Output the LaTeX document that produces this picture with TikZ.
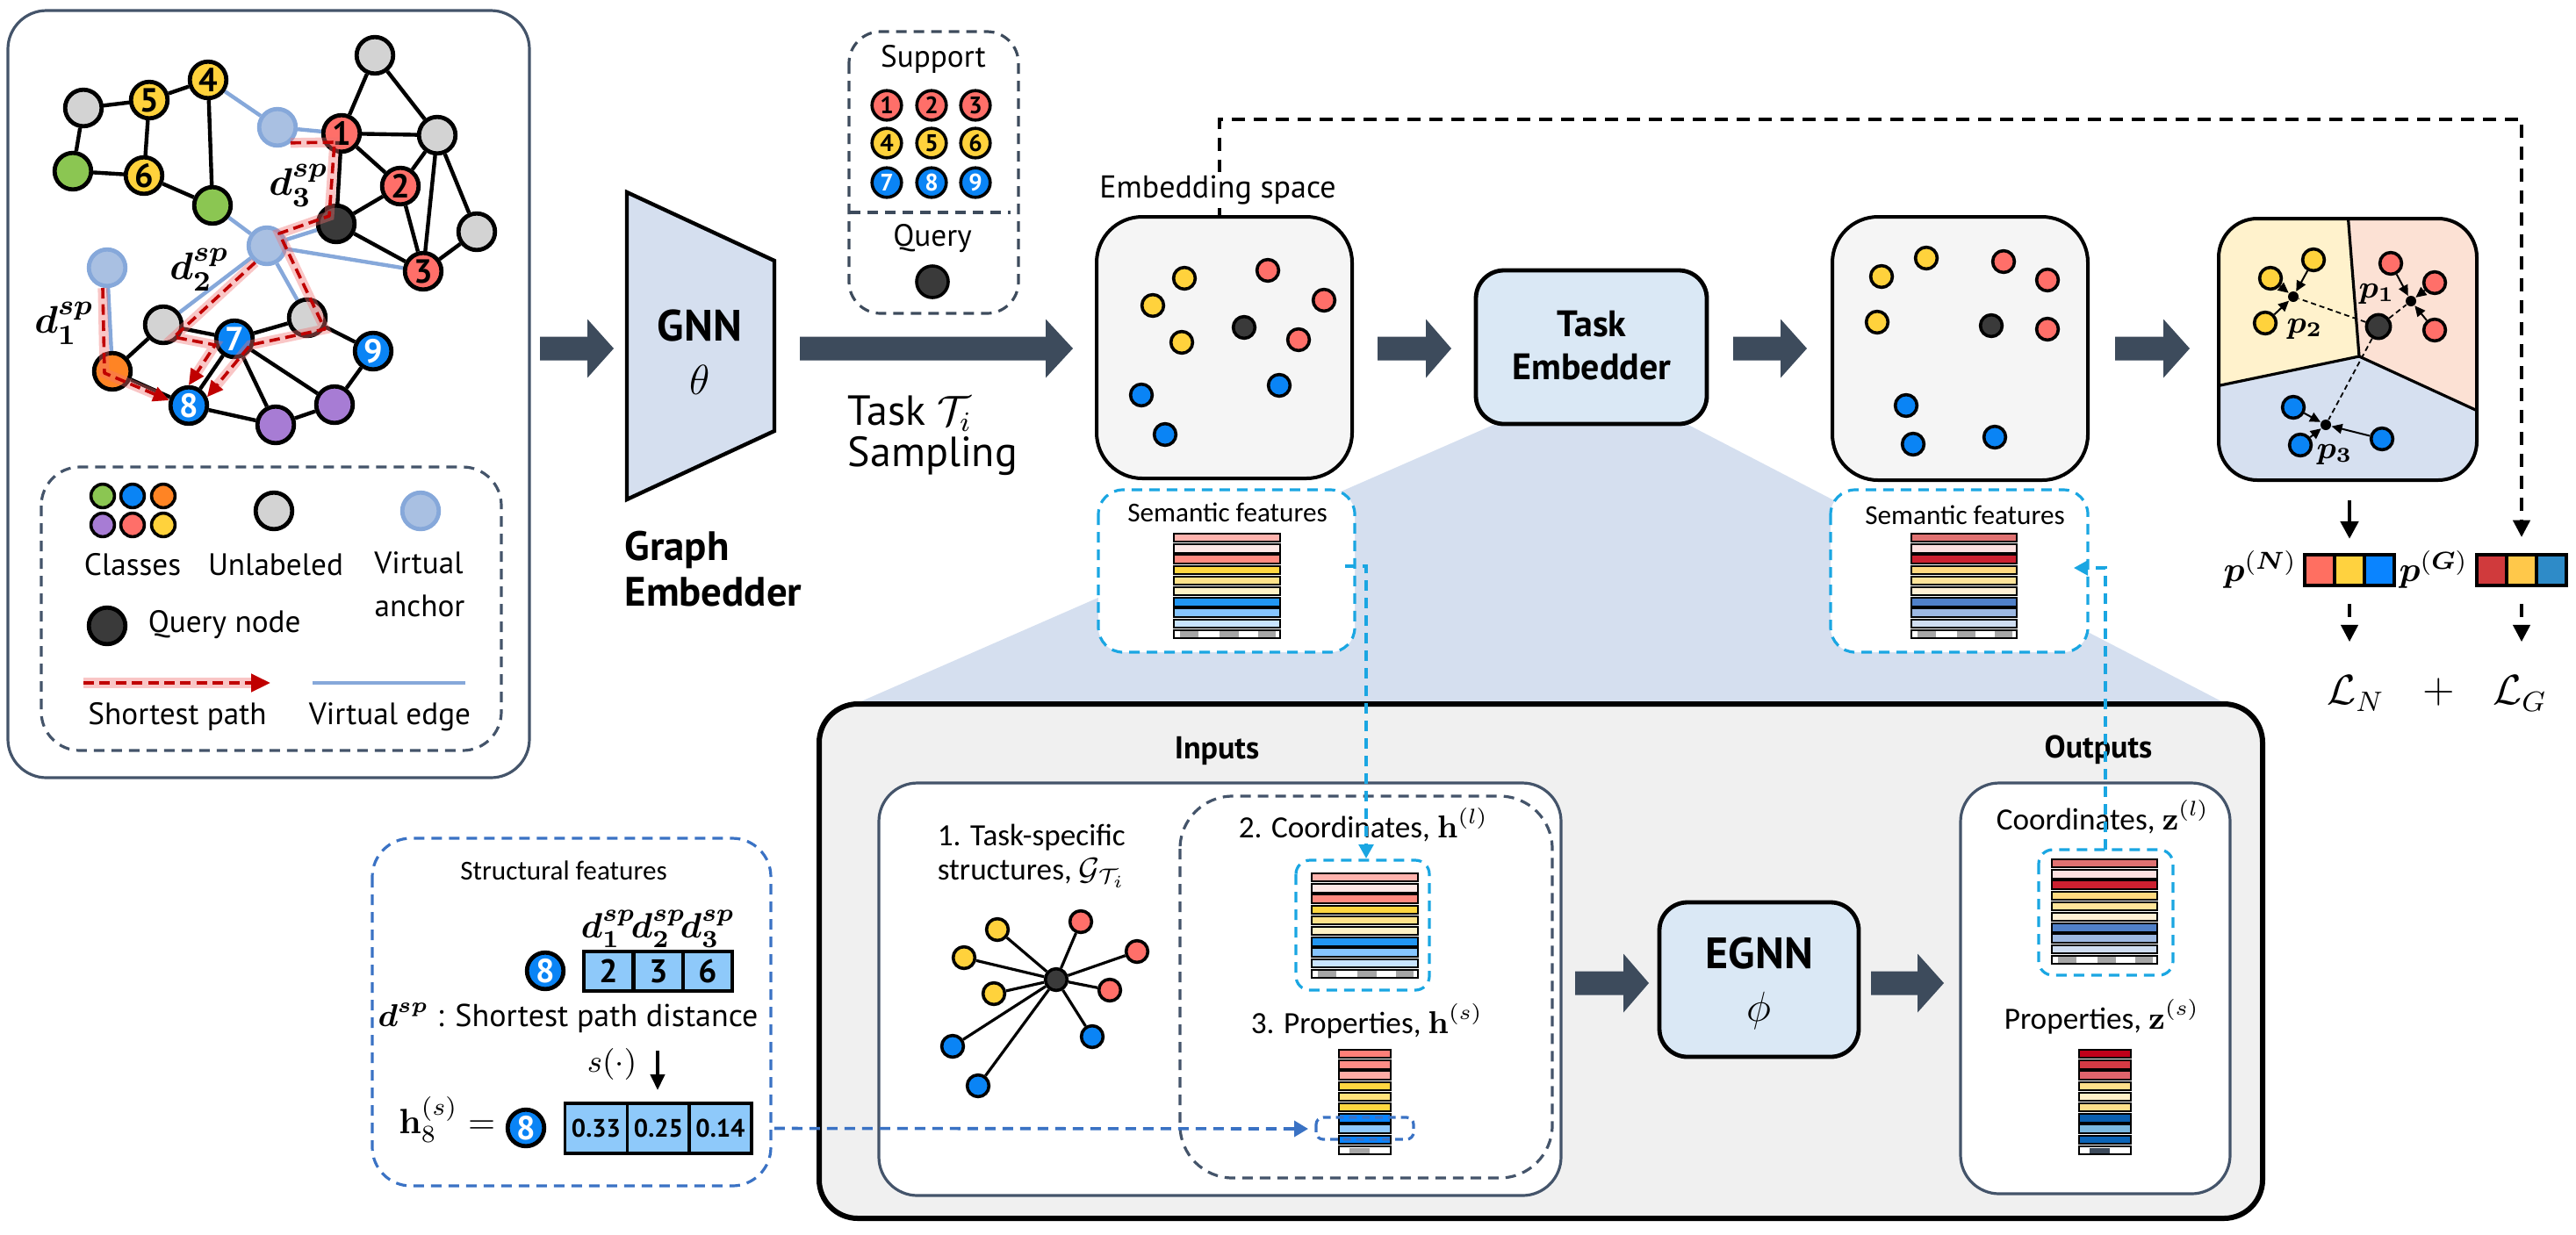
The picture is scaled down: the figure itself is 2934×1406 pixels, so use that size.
\documentclass[tikz,border=0pt]{standalone}
\usepackage{amsmath}
\usepackage[no-math]{fontspec}
\usepackage{bm}
\setmainfont{PT Sans}
\newfontfamily\calib{Carlito}
\usetikzlibrary{arrows.meta,calc}
\pgfdeclarelayer{bg}
\pgfdeclarelayer{fg}
\pgfdeclarelayer{top}
\pgfsetlayers{bg,main,fg,top}
\newcommand{\fsz}[1]{\fontsize{#1}{#1}\selectfont}
\definecolor{slate}{HTML}{3D4B5C}
\definecolor{frame}{HTML}{44546A}
\definecolor{nred}{HTML}{FF6F69}
\definecolor{nyel}{HTML}{FFD23C}
\definecolor{ngrn}{HTML}{8BC652}
\definecolor{nblu}{HTML}{0A84F5}
\definecolor{nora}{HTML}{FF8424}
\definecolor{npur}{HTML}{A77CD4}
\definecolor{ngry}{HTML}{D3D3D3}
\definecolor{ndrk}{HTML}{3A3A3A}
\definecolor{vfill}{HTML}{A9C0E2}
\definecolor{vline}{HTML}{86A8DA}
\definecolor{pathred}{HTML}{C00000}
\definecolor{glow}{HTML}{F07070}
\definecolor{gnnfill}{HTML}{D5DFEF}
\definecolor{boxfill}{HTML}{DAE8F5}
\definecolor{embfill}{HTML}{F5F5F5}
\definecolor{zoomshade}{HTML}{D5DFEF}
\definecolor{panel}{HTML}{F0F0F0}
\definecolor{cyanl}{HTML}{1AA6E2}
\definecolor{blued}{HTML}{3A72C4}
\definecolor{vyel}{HTML}{FFF2CC}
\definecolor{vpink}{HTML}{FCE1D4}
\definecolor{vblue}{HTML}{D6E0F0}
\definecolor{cellb}{HTML}{8EC9FA}
\definecolor{sA1}{HTML}{FFB3AE}\definecolor{sA2}{HTML}{FFE8E6}\definecolor{sA3}{HTML}{FF8A80}
\definecolor{sA4}{HTML}{FFD740}\definecolor{sA5}{HTML}{FFE38A}\definecolor{sA6}{HTML}{FFF2C6}
\definecolor{sA7}{HTML}{2196F3}\definecolor{sA8}{HTML}{86C5FF}\definecolor{sA9}{HTML}{C9E4FF}
\definecolor{sB1}{HTML}{E07272}\definecolor{sB2}{HTML}{FDE0E0}\definecolor{sB3}{HTML}{CC2030}
\definecolor{sB4}{HTML}{FFD980}\definecolor{sB5}{HTML}{FFE49A}\definecolor{sB6}{HTML}{FFF0D5}
\definecolor{sB7}{HTML}{5080C8}\definecolor{sB8}{HTML}{9DB8E2}\definecolor{sB9}{HTML}{D0DEF2}
\definecolor{pH1}{HTML}{FF7F78}\definecolor{pH2}{HTML}{FF8C85}\definecolor{pH3}{HTML}{FFACA5}
\definecolor{pH4}{HTML}{FFD740}\definecolor{pH5}{HTML}{FFE37A}\definecolor{pH6}{HTML}{FFD740}
\definecolor{pH7}{HTML}{0A84FF}\definecolor{pH8}{HTML}{8CC8FF}\definecolor{pH9}{HTML}{0A84FF}
\definecolor{pZ1}{HTML}{C0001A}\definecolor{pZ2}{HTML}{D63A44}\definecolor{pZ3}{HTML}{E0646C}
\definecolor{pZ4}{HTML}{FFE08A}\definecolor{pZ5}{HTML}{FFF0C8}\definecolor{pZ6}{HTML}{FFE08A}
\definecolor{pZ7}{HTML}{0A5FB0}\definecolor{pZ8}{HTML}{7AB8E0}\definecolor{pZ9}{HTML}{0A64B8}
\definecolor{pN1}{HTML}{FF6F61}\definecolor{pN2}{HTML}{FFD23F}\definecolor{pN3}{HTML}{0A84FF}
\definecolor{pG1}{HTML}{D03A3C}\definecolor{pG2}{HTML}{FFC84A}\definecolor{pG3}{HTML}{2E8BC8}

\newcommand{\fbars}[4]{%
  \foreach \cc [count=\ii from 0] in {#4} {
    \filldraw[fill=\cc, draw=black, line width=0.5pt] (#1,{#2+\ii*12.2}) rectangle ++(#3,9.3);
  }}
\newcommand{\fbarlastA}[3]{%
  \filldraw[fill=white, draw=black, line width=0.5pt] (#1,{#2+109.8}) rectangle ++(#3,9.3);
  \fill[gray!70] ({#1+0.055*#3},{#2+111.2}) rectangle ({#1+0.234*#3},{#2+117.7});
  \fill[gray!70] ({#1+0.43*#3},{#2+111.2}) rectangle ({#1+0.61*#3},{#2+117.7});
  \fill[gray!70] ({#1+0.79*#3},{#2+111.2}) rectangle ({#1+0.96*#3},{#2+117.7});}
\newcommand{\fbarlastB}[4]{%
  \filldraw[fill=white, draw=black, line width=0.5pt] (#1,{#2+109.8}) rectangle ++(#3,9.3);
  \fill[#4] ({#1+0.2*#3},{#2+112}) rectangle ({#1+0.6*#3},{#2+117.7});}
\newcommand{\blkarrow}[4]{%
  \fill[slate] (#1,{#4-13.5}) -- (#2,{#4-13.5}) -- (#2,{#4-33.5}) -- (#3,#4) -- (#2,{#4+33.5}) -- (#2,{#4+13.5}) -- (#1,{#4+13.5}) -- cycle;}

\tikzset{
  gn/.style={circle, draw=black, line width=1.2pt, minimum size=10.4pt, inner sep=0pt, font=\bfseries\fsz{9.5}},
  va/.style={circle, draw=vline, fill=vfill, line width=1.2pt, minimum size=10.4pt, inner sep=0pt},
  ge/.style={draw=black, line width=1.1pt},
  ve/.style={draw=vline, line width=1.1pt},
  sp/.style={draw=pathred, line width=0.9pt, dash pattern=on 3pt off 1.6pt, line join=round,
    preaction={draw=glow, draw opacity=0.4, line width=2.8pt, solid}},
  sptip/.style={-{Triangle[length=4.5pt,width=4.2pt]}},
  lbl/.style={inner sep=0pt, font=\fsz{8.8}},
  sc/.style={circle, draw=black, line width=0.9pt, minimum size=8.4pt, inner sep=0pt, font=\bfseries\fsz{6.8}},
  edot/.style={circle, draw=black, line width=0.9pt, minimum size=6.2pt, inner sep=0pt},
  cent/.style={circle, fill=black, minimum size=3pt, inner sep=0pt},
  tocent/.style={-{Triangle[length=3pt,width=2.8pt]}, line width=0.5pt},
  qdash/.style={dash pattern=on 1.5pt off 1pt, line width=0.45pt},
  semb/.style={draw=cyanl, dash pattern=on 3pt off 2pt, line width=0.8pt, fill=white, rounded corners=7pt},
  cyanbox/.style={draw=cyanl, dash pattern=on 3pt off 2pt, line width=0.8pt, rounded corners=4pt},
  cyanln/.style={draw=cyanl, dash pattern=on 3pt off 2pt, line width=0.8pt, -{Triangle[length=4pt,width=4.2pt]}},
  fbk/.style={draw=black, dash pattern=on 3.75pt off 2.5pt, line width=0.9pt},
  pcell/.style={draw=black, line width=1.1pt, minimum width=8.5pt, minimum height=8.7pt, inner sep=0pt},
  tcell/.style={draw=black, line width=0.9pt, fill=cellb, inner sep=0pt},
  bigbox/.style={draw=black, line width=1.2pt, fill=boxfill, rounded corners=8pt, inner sep=0pt},
  embbox/.style={draw=black, line width=1pt, fill=embfill, rounded corners=13pt},
  txt/.style={inner sep=0pt},
}

\begin{document}
\begin{tikzpicture}[x=0.25pt,y=-0.25pt]
\useasboundingbox (0,0) rectangle (2934,1406);

% ---------------- left panel
\draw[frame, line width=0.8pt, rounded corners=11pt] (9,12) rectangle (603,886);
\draw[frame, dash pattern=on 3pt off 2pt, line width=0.8pt, rounded corners=11pt] (47,532) rectangle (571,855);

% graph nodes
\node[gn,fill=ngry] (gTL) at (95,123) {};
\node[gn,fill=nyel] (n5) at (170,114) {5};
\node[gn,fill=nyel] (n4) at (237,91) {4};
\node[gn,fill=ngrn] (gL) at (83,195) {};
\node[gn,fill=nyel] (n6) at (164,200) {6};
\node[gn,fill=ngrn] (gR) at (242,234) {};
\node[va] (vT) at (316,145) {};
\node[gn,fill=nred] (n1) at (389,152) {1};
\node[gn,fill=ngry] (gT) at (427,63) {};
\node[gn,fill=ngry] (gRT) at (498,154) {};
\node[gn,fill=nred] (n2) at (456,212) {2};
\node[gn,fill=ndrk] (q) at (383,255) {};
\node[gn,fill=ngry] (gFR) at (543,264) {};
\node[gn,fill=nred] (n3) at (482,309) {3};
\node[va] (vC) at (304,280) {};
\node[va] (vL) at (122,305) {};
\node[gn,fill=ngry] (gML) at (186,370) {};
\node[gn,fill=ngry] (gMR) at (350,362) {};
\node[gn,fill=nblu,text=white] (n7) at (267,386) {7};
\node[gn,fill=nblu,text=white] (n9) at (425,400) {9};
\node[gn,fill=nora] (or) at (128,423) {};
\node[gn,fill=nblu,text=white] (n8) at (215,462) {8};
\node[gn,fill=npur] (pM) at (314,484) {};
\node[gn,fill=npur] (pR) at (381,461) {};

\begin{pgfonlayer}{bg}
\foreach \a/\b in {gTL/n5, gTL/gL, n5/n4, n5/n6, n6/gL, n6/gR, n4/gR, n1/gT, gT/gRT, n1/gRT, n1/n2, n1/q, n2/gRT, n2/q, n2/n3, gRT/n3, gRT/gFR, gFR/n3, q/n3, gML/n7, gML/or, n7/gMR, gMR/n9, n7/n8, n7/pM, n7/pR, or/n8, n8/pM, pM/pR, pR/n9}
  \draw[ge] (\a) -- (\b);
\foreach \a/\b in {n4/vT, vT/n1, gR/vC, vC/q, vC/n3, vC/gML, vC/gMR, vL/or}
  \draw[ve] (\a) -- (\b);
\end{pgfonlayer}

% shortest paths
\draw[sp, sptip] ([shift={(-5,0)}]vL.south) -- ([shift={(-9,2)}]or.center) -- (n8.165);
\draw[sp, sptip] (vC.235) -- ([shift={(12,14)}]gML.center) -- ([shift={(-22,7)}]n7.center) -- (n8.north);
\draw[sp, sptip] (vT.-50) -- ([shift={(-8,10)}]n1.center) -- ([shift={(-8,-9)}]q.center) -- ([shift={(14,-14)}]vC.center) -- ([shift={(20,13)}]gMR.center) -- ([shift={(18,7)}]n7.center) -- (n8.25);

\node[txt, font=\fsz{11}] (ld3) at (340,211) {$\bm{d}^{\bm{sp}}_{\bm{3}}$};
\node[txt, font=\fsz{11}] (ld2) at (227,307) {$\bm{d}^{\bm{sp}}_{\bm{2}}$};
\node[txt, font=\fsz{11}] (ld1) at (73,368) {$\bm{d}^{\bm{sp}}_{\bm{1}}$};

% legend
\node[gn, fill=ngrn, minimum size=6.7pt, line width=0.9pt] (lc1) at (117,565) {};
\node[gn, fill=nblu, minimum size=6.7pt, line width=0.9pt] (lc2) at (151,565) {};
\node[gn, fill=nora, minimum size=6.7pt, line width=0.9pt] (lc3) at (186,565) {};
\node[gn, fill=npur, minimum size=6.7pt, line width=0.9pt] (lc4) at (117,598) {};
\node[gn, fill=nred, minimum size=6.7pt, line width=0.9pt] (lc5) at (151,598) {};
\node[gn, fill=nyel, minimum size=6.7pt, line width=0.9pt] (lc6) at (186,598) {};
\node[gn, fill=ngry] (lgU) at (312,582) {};
\node[va] (lgV) at (479,582) {};
\node[gn, fill=ndrk] (lgQ) at (122,713) {};
\node[lbl, anchor=base] (tCl) at (151,655) {Classes};
\node[lbl, anchor=base] (tUn) at (314,655) {Unlabeled};
\node[lbl, anchor=base] (tVa) at (477,653) {Virtual};
\node[lbl, anchor=base] (tVb) at (478,702) {anchor};
\node[lbl, anchor=base west] (tQn) at (168,720) {Query node};
\node[lbl, anchor=base] (tSp) at (202,825) {Shortest path};
\node[lbl, anchor=base] (tVe) at (444,825) {Virtual edge};
\coordinate (lsA) at (95,778); \coordinate (lsB) at (308,778);
\draw[sp, line width=1.1pt, -{Triangle[length=5.5pt,width=5pt]}] (lsA) -- (lsB);
\coordinate (lvA) at (356,778); \coordinate (lvB) at (530,778);
\draw[ve] (lvA) -- (lvB);

% ---------------- block arrows row 1
\blkarrow{615}{669}{699}{397}
\blkarrow{911}{1191}{1222}{397}
\blkarrow{1569}{1624}{1653}{397}
\blkarrow{1974}{2028}{2058}{397}
\blkarrow{2409}{2464}{2494}{397}

% GNN
\draw[line width=1.1pt, fill=gnnfill] (714,219) -- (882,297) -- (882,491) -- (714,569) -- cycle;
\node[txt, font=\bfseries\fsz{12.5}, anchor=base] (gnnT) at (797,388) {GNN};
\node[txt, font=\fsz{12}, anchor=base] (gnnTh) at (797,449) {$\theta$};
\node[txt, font=\bfseries\fsz{11.7}, anchor=base west] (ge1) at (711,638) {Graph};
\node[txt, font=\bfseries\fsz{11.7}, anchor=base west] (ge2) at (711,690) {Embedder};

% task sampling
\node[txt, font=\fsz{12}, anchor=base west] (ts1) at (965,484) {Task $\mathcal{T}_i$};
\node[txt, font=\fsz{12}, anchor=base west] (ts2) at (965,531) {Sampling};

% support box
\draw[slate, dash pattern=on 3pt off 2pt, line width=0.8pt, rounded corners=9pt] (967,36) rectangle (1160,357);
\draw[slate, dash pattern=on 3pt off 2pt, line width=0.8pt] (968,242) -- (1151,242);
\node[txt, font=\fsz{8.8}, anchor=base] (supT) at (1063,76) {Support};
\node[txt, font=\fsz{8.8}, anchor=base] (qryT) at (1062,280) {Query};
\node[sc, fill=nred] (s1) at (1010,120) {1};
\node[sc, fill=nred] (s2) at (1061,120) {2};
\node[sc, fill=nred] (s3) at (1111,120) {3};
\node[sc, fill=nyel] (s4) at (1010,163) {4};
\node[sc, fill=nyel] (s5) at (1061,163) {5};
\node[sc, fill=nyel] (s6) at (1111,163) {6};
\node[sc, fill=nblu, text=white] (s7) at (1010,208) {7};
\node[sc, fill=nblu, text=white] (s8) at (1061,208) {8};
\node[sc, fill=nblu, text=white] (s9) at (1111,208) {9};
\node[sc, fill=ndrk, minimum size=9pt] (sq) at (1062,321) {};

% ---------------- zoom shade
\fill[zoomshade] (1701,484) -- (1923,484) -- (2536,802) -- (974,802) -- cycle;

% embedding boxes
\draw[embbox] (1249,247) rectangle (1540,545);
\coordinate (fbA) at (1389,247);
\node[edot, fill=nyel] (e1y1) at (1349,317) {};
\node[edot, fill=nyel] (e1y2) at (1313,348) {};
\node[edot, fill=nyel] (e1y3) at (1346,390) {};
\node[edot, fill=nred] (e1r1) at (1444,308) {};
\node[edot, fill=nred] (e1r2) at (1508,342) {};
\node[edot, fill=nred] (e1r3) at (1479,387) {};
\node[edot, fill=ndrk] (e1q) at (1417,373) {};
\node[edot, fill=nblu] (e1b1) at (1300,450) {};
\node[edot, fill=nblu] (e1b2) at (1457,439) {};
\node[edot, fill=nblu] (e1b3) at (1327,495) {};

\node[bigbox, minimum width=65.75pt, minimum height=43.75pt] (temb) at (1812.5,395.5) {};
\node[txt, font=\bfseries\fsz{10.5}, anchor=base] (tembA) at (1813,383) {Task};
\node[txt, font=\bfseries\fsz{10.5}, anchor=base] (tembB) at (1813,432) {Embedder};

\draw[embbox] (2087,247) rectangle (2378,547);
\node[edot, fill=nyel] (e2y1) at (2143,315) {};
\node[edot, fill=nyel] (e2y2) at (2194,294) {};
\node[edot, fill=nyel] (e2y3) at (2138,367) {};
\node[edot, fill=nred] (e2r1) at (2282,298) {};
\node[edot, fill=nred] (e2r2) at (2332,319) {};
\node[edot, fill=nred] (e2r3) at (2332,375) {};
\node[edot, fill=ndrk] (e2q) at (2268,371) {};
\node[edot, fill=nblu] (e2b1) at (2171,462) {};
\node[edot, fill=nblu] (e2b2) at (2179,506) {};
\node[edot, fill=nblu] (e2b3) at (2272,498) {};

% ---------------- voronoi box
\begin{scope}
\clip[rounded corners=11pt] (2527,249) rectangle (2821,547);
\fill[vyel] (2500,230) -- (2673,230) -- (2687,406) -- (2500,445) -- cycle;
\fill[vpink] (2673,230) -- (2850,230) -- (2850,481) -- (2687,406) -- cycle;
\fill[vblue] (2500,445) -- (2687,406) -- (2850,481) -- (2850,570) -- (2500,570) -- cycle;
\coordinate (vJ) at (2687,406);
\draw[line width=0.8pt] (vJ) -- (2673,230);
\draw[line width=0.8pt] (vJ) -- (2500,445);
\draw[line width=0.8pt] (vJ) -- (2850,481);
\end{scope}
\draw[line width=1pt, rounded corners=11pt] (2527,249) rectangle (2821,547);
\coordinate (vorS) at (2676,570);
\node[cent] (p1c) at (2746,343) {};
\node[cent] (p2c) at (2612,338) {};
\node[cent] (p3c) at (2649,484) {};
\node[edot, fill=nyel] (vy1) at (2635,296) {};
\node[edot, fill=nyel] (vy2) at (2586,317) {};
\node[edot, fill=nyel] (vy3) at (2580,368) {};
\node[edot, fill=nred] (vr1) at (2723,300) {};
\node[edot, fill=nred] (vr2) at (2773,322) {};
\node[edot, fill=nred] (vr3) at (2773,376) {};
\node[edot, fill=nblu] (vb1) at (2612,464) {};
\node[edot, fill=nblu] (vb2) at (2620,507) {};
\node[edot, fill=nblu] (vb3) at (2713,500) {};
\node[edot, fill=ndrk, minimum size=6.8pt] (vq) at (2709,372) {};
\foreach \d/\c in {vy1/p2c, vy2/p2c, vy3/p2c, vr1/p1c, vr2/p1c, vr3/p1c, vb1/p3c, vb2/p3c, vb3/p3c}
  \draw[tocent] (\d) -- (\c);
\foreach \c in {p1c, p2c, p3c}
  \draw[qdash] (vq) -- (\c);
\node[txt, font=\fsz{9}] (lp1) at (2707,335) {$\bm{p_1}$};
\node[txt, font=\fsz{9}] (lp2) at (2625,375) {$\bm{p_2}$};
\node[txt, font=\fsz{9}] (lp3) at (2659,518) {$\bm{p_3}$};

% probability bars
\node[pcell, fill=pN1] (pn1) at (2642,649.5) {};
\node[pcell, fill=pN2] (pn2) at (2676,649.5) {};
\node[pcell, fill=pN3] (pn3) at (2710,649.5) {};
\node[pcell, fill=pG1] (pg1) at (2838,649.5) {};
\node[pcell, fill=pG2] (pg2) at (2872,649.5) {};
\node[pcell, fill=pG3] (pg3) at (2906,649.5) {};
\node[txt, font=\fsz{10}, anchor=east] (lpn) at (2617,649) {$\bm{p}^{(\bm{N})}$};
\node[txt, font=\fsz{10}, anchor=east] (lpg) at (2812,649) {$\bm{p}^{(\bm{G})}$};
\draw[line width=1.2pt, -{Triangle[length=5pt,width=5pt]}] (vorS) -- ([yshift=4pt]pn2.north);
\draw[fbk, -{Triangle[length=4.8pt,width=4.8pt]}] ([yshift=-4.75pt]pn2.south) -- ([yshift=-15.5pt]pn2.south);
\draw[fbk, -{Triangle[length=4.8pt,width=4.8pt]}] ([yshift=-4.75pt]pg2.south) -- ([yshift=-15.5pt]pg2.south);
\node[txt, font=\fsz{12}] (LN) at (2683,790) {$\mathcal{L}_N$};
\node[txt, font=\fsz{12}] (plus) at (2778,788) {$+$};
\node[txt, font=\fsz{12}] (LG) at (2870,790) {$\mathcal{L}_G$};

% feedback dashed line
\draw[fbk, -{Triangle[length=4.8pt,width=4.8pt]}] (fbA) |- (2872,136) -- ([yshift=4.5pt]pg2.north);
\node[txt, font=\fsz{9}, anchor=base, fill=white, inner sep=1pt] (embT) at (1387,225) {Embedding space};

% ---------------- semantic feature boxes
\draw[semb] (1251,558) rectangle (1543,743);
\node[txt, font=\calib\fsz{7.8}, anchor=base] (sf1) at (1398,594) {Semantic features};
\fbars{1337}{608}{121}{sA1,sA2,sA3,sA4,sA5,sA6,sA7,sA8,sA9}
\fbarlastA{1337}{608}{121}
\draw[semb] (2085,558) rectangle (2378,743);
\node[txt, font=\calib\fsz{7.8}, anchor=base] (sf2) at (2238,597) {Semantic features};
\fbars{2177}{608}{120}{sB1,sB2,sB3,sB4,sB5,sB6,sB7,sB8,sB9}
\fbarlastA{2177}{608}{120}

% ---------------- bottom panel
\draw[line width=1.5pt, fill=panel, rounded corners=11pt] (933,802) rectangle (2577,1388);
\node[txt, font=\bfseries\fsz{9}, anchor=base] (inT) at (1386,864) {Inputs};
\node[txt, font=\bfseries\fsz{9}, anchor=base] (outT) at (2390,863) {Outputs};
\draw[frame, line width=0.8pt, fill=white, rounded corners=11pt] (1001,892) rectangle (1778,1362);
\draw[frame, dash pattern=on 3pt off 2pt, line width=0.8pt, rounded corners=15pt] (1344,907) rectangle (1768,1342);
\draw[frame, line width=0.8pt, fill=white, rounded corners=11pt] (2233,892) rectangle (2540,1360);

\node[txt, font=\calib\fsz{8.8}, anchor=base west] (tsA) at (1067,963) {1. Task-specific};
\node[txt, font=\calib\fsz{8.8}, anchor=base west] (tsB) at (1067,1002) {structures, $\mathcal{G}_{\mathcal{T}_i}$};
\node[txt, font=\calib\fsz{8.8}, anchor=base] (coH) at (1553,954) {2. Coordinates, $\mathbf{h}^{(l)}$};
\node[txt, font=\calib\fsz{8.8}, anchor=base] (prH) at (1557,1177) {3. Properties, $\mathbf{h}^{(s)}$};
\node[txt, font=\calib\fsz{8.8}, anchor=base] (coZ) at (2395,945) {Coordinates, $\mathbf{z}^{(l)}$};
\node[txt, font=\calib\fsz{8.8}, anchor=base] (prZ) at (2394,1172) {Properties, $\mathbf{z}^{(s)}$};

% star graph
\begin{pgfonlayer}{top}
\node[edot, fill=ndrk, minimum size=6.2pt] (sc0) at (1203,1116) {};
\node[edot, fill=nyel] (sy1) at (1136,1059) {};
\node[edot, fill=nyel] (sy2) at (1098,1091) {};
\node[edot, fill=nyel] (sy3) at (1132,1132) {};
\node[edot, fill=nred] (sr1) at (1231,1050) {};
\node[edot, fill=nred] (sr2) at (1295,1084) {};
\node[edot, fill=nred] (sr3) at (1264,1128) {};
\node[edot, fill=nblu] (sb1) at (1085,1192) {};
\node[edot, fill=nblu] (sb2) at (1244,1181) {};
\node[edot, fill=nblu] (sb3) at (1114,1237) {};
\end{pgfonlayer}
\begin{pgfonlayer}{fg}
\foreach \l in {sy1,sy2,sy3,sr1,sr2,sr3,sb1,sb2,sb3}
  \draw[line width=0.8pt] (sc0) -- (\l);
\end{pgfonlayer}

% bars in bottom panel
\draw[cyanbox] (1476,980) rectangle (1628,1128);
\fbars{1494}{995}{121}{sA1,sA2,sA3,sA4,sA5,sA6,sA7,sA8,sA9}
\fbarlastA{1494}{995}{121}
\fbars{1525}{1196}{59}{pH1,pH2,pH3,pH4,pH5,pH6,pH7,pH8,pH9}
\fbarlastB{1525}{1196}{59}{gray!70}
\draw[blued, dash pattern=on 2.2pt off 1.5pt, line width=0.8pt, rounded corners=2pt] (1499,1273) rectangle (1610,1298);
\draw[cyanbox] (2322,968) rectangle (2475,1111);
\fbars{2337}{979}{120}{sB1,sB2,sB3,sB4,sB5,sB6,sB7,sB8,sB9}
\fbarlastA{2337}{979}{120}
\fbars{2368}{1196}{59}{pZ1,pZ2,pZ3,pZ4,pZ5,pZ6,pZ7,pZ8,pZ9}
\fbarlastB{2368}{1196}{59}{slate}

% EGNN
\blkarrow{1794}{1849}{1878}{1120}
\blkarrow{2131}{2184}{2214}{1120}
\node[bigbox, minimum width=56.75pt, minimum height=44pt] (egnn) at (2003.5,1116) {};
\node[txt, font=\bfseries\fsz{12.5}, anchor=base] (egT) at (2004,1103) {EGNN};
\node[txt, font=\fsz{13}, anchor=base] (egP) at (2003,1163) {$\phi$};

% cyan connectors
\coordinate (cA) at (1532,645); \coordinate (cB) at (1556,978);
\draw[cyanln] (cA) -| (cB);
\coordinate (cC) at (2398,968); \coordinate (cD) at (2362,647);
\draw[cyanln] (cC) |- (cD);

% ---------------- structural features
\draw[blued, dash pattern=on 3pt off 2pt, line width=0.8pt, rounded corners=11pt] (424,955) rectangle (878,1351);
\node[txt, font=\calib\fsz{7.8}, anchor=base] (stT) at (642,1002) {Structural features};
\node[gn, fill=nblu, text=white] (st8a) at (621,1106) {8};
\node[tcell, minimum width=14pt, minimum height=11.25pt, font=\bfseries\fsz{9.3}] (t11) at (693,1106.5) {2};
\node[tcell, minimum width=14pt, minimum height=11.25pt, font=\bfseries\fsz{9.3}] (t12) at (750,1106.5) {3};
\node[tcell, minimum width=14pt, minimum height=11.25pt, font=\bfseries\fsz{9.3}] (t13) at (806,1106.5) {6};
\node[txt, font=\fsz{10}, anchor=south] (sd1) at (693,1080) {$\bm{d}^{\bm{sp}}_{\bm{1}}$};
\node[txt, font=\fsz{10}, anchor=south] (sd2) at (750,1080) {$\bm{d}^{\bm{sp}}_{\bm{2}}$};
\node[txt, font=\fsz{10}, anchor=south] (sd3) at (806,1080) {$\bm{d}^{\bm{sp}}_{\bm{3}}$};
\node[txt, font=\fsz{9}, anchor=base] (spd) at (647,1169) {$\bm{d}^{\bm{sp}}$ : Shortest path distance};
\node[txt, font=\fsz{9.5}] (sfun) at (697,1212) {$s(\cdot)$};
\coordinate (sfA) at (749,1197); \coordinate (sfB) at (749,1242);
\draw[line width=1pt, -{Triangle[length=4.5pt,width=4pt]}] (sfA) -- (sfB);
\node[txt, font=\fsz{10}, anchor=base east] (h8) at (565,1291) {$\mathbf{h}_8^{(s)} =$};
\node[gn, fill=nblu, text=white] (st8b) at (599,1285) {8};
\node[tcell, minimum width=17.75pt, minimum height=14.25pt, font=\bfseries\fsz{7.2}] (t21) at (679,1285.5) {0.33};
\node[tcell, minimum width=17.75pt, minimum height=14.25pt, font=\bfseries\fsz{7.2}] (t22) at (750,1285.5) {0.25};
\node[tcell, minimum width=17.75pt, minimum height=14.25pt, font=\bfseries\fsz{7.2}] (t23) at (820.5,1285.5) {0.14};
\coordinate (stB) at (1490,1286);
\draw[blued, dash pattern=on 3pt off 2pt, line width=0.9pt, -{Triangle[length=4pt,width=4.5pt]}] ([xshift=6pt]t23.east) -- (stB);

\end{tikzpicture}
\end{document}
